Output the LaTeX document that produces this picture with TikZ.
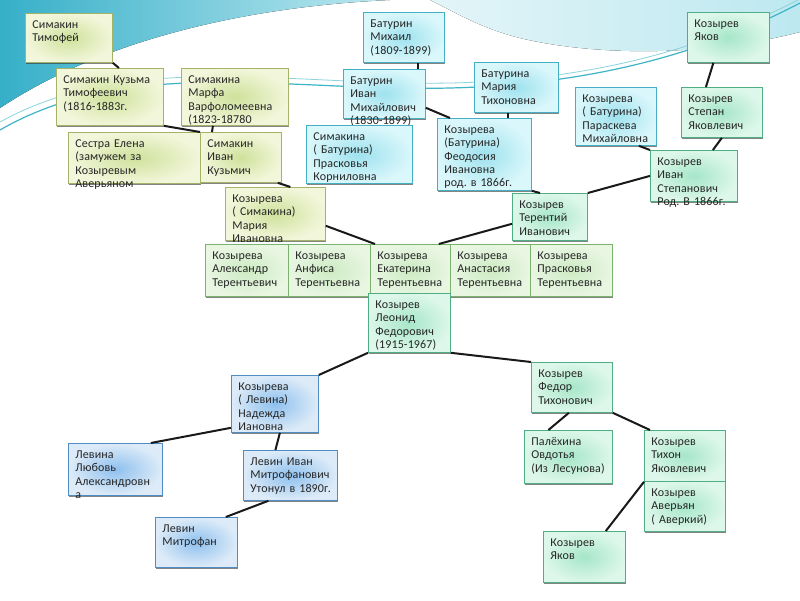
\documentclass[tikz,border=0pt]{standalone}
\usepackage{fontspec}
\newfontfamily\treefont{Carlito}[LetterSpace=1]
\usetikzlibrary{shadows}
\hyphenpenalty=10000
\frenchspacing

\definecolor{simline}{HTML}{A3B36A}
\definecolor{simin}{HTML}{CFE19B}
\definecolor{simout}{HTML}{F2F6DA}
\definecolor{batline}{HTML}{45AFC3}
\definecolor{batin}{HTML}{9EE2EE}
\definecolor{batout}{HTML}{DAF7FB}
\definecolor{kozline}{HTML}{4FAE83}
\definecolor{kozin}{HTML}{A6E6C8}
\definecolor{kozout}{HTML}{DDF7EA}
\definecolor{kidline}{HTML}{79B36E}
\definecolor{kidin}{HTML}{CDEBC3}
\definecolor{kidout}{HTML}{E8F6E2}
\definecolor{levline}{HTML}{4F8DC4}
\definecolor{levin}{HTML}{8EC0EE}
\definecolor{levout}{HTML}{DDEBF8}
\definecolor{swooshdark}{HTML}{36AFC8}
\definecolor{swooshlight}{HTML}{BDE8F0}
\definecolor{swooshpale}{HTML}{E3F5F8}
\definecolor{swooshline}{HTML}{3DB5C6}

\begin{document}
\begin{tikzpicture}[
    x=1pt, y=-1pt,
    person/.style={
        rectangle,
        draw,
        line width=0.8pt,
        anchor=north west,
        align=left,
        inner xsep=7pt,
        inner ysep=4pt,
        text height=11pt,
        font=\treefont\fontsize{12}{13.3}\selectfont,
        text=black!85,
        drop shadow={shadow xshift=1pt, shadow yshift=-2pt, opacity=0.6, fill=black!80}
    },
    simbox/.style={person, draw=simline, inner color=simin, outer color=simout},
    batbox/.style={person, draw=batline, inner color=batin, outer color=batout},
    kozbox/.style={person, draw=kozline, inner color=kozin, outer color=kozout},
    kidbox/.style={person, draw=kidline, inner color=kidin, outer color=kidout},
    levbox/.style={person, draw=levline, inner color=levin, outer color=levout},
    link/.style={line width=2pt, black!90}
]

\useasboundingbox[fill=white] (0,0) rectangle (800,600);
\fill[left color=swooshdark, right color=swooshlight]
    (0,0) -- (390,0) .. controls (260,6) and (110,35) .. (0,108) -- cycle;
\fill[left color=swooshpale, right color=swooshlight]
    (430,0) -- (800,0) -- (800,32) .. controls (700,58) and (590,55) .. (520,38)
    .. controls (480,28) and (455,12) .. (430,0) -- cycle;
\draw[swooshline, line width=1.2pt]
    (0,130) .. controls (130,55) and (290,92) .. (450,88) .. controls (610,84) and (720,45) .. (800,3);
\draw[swooshline!60, line width=0.8pt]
    (0,122) .. controls (130,50) and (290,86) .. (450,83) .. controls (610,80) and (720,40) .. (800,-1);

\node[simbox, text width=73pt, text depth=30pt] (tim) at (25,13) {Симакин\\Тимофей};
\node[simbox, text width=93pt, text depth=38pt] (kuzma) at (56,68) {\mbox{Симакин Кузьма}\\Тимофеевич\\(1816-1883г.};
\node[simbox, text width=93pt, text depth=38pt] (marfa) at (181,68) {Симакина\\Марфа\\Варфоломеевна\\(1823-18780};
\node[simbox, text width=118pt, text depth=32pt] (elena) at (68,132) {Сестра Елена\\(замужем за\\Козыревым\\Аверьяном};
\node[simbox, text width=67pt, text depth=31pt] (ivank) at (200,132) {Симакин\\Иван\\Кузьмич};
\node[simbox, text width=86pt, text depth=34pt] (mariya) at (225,187) {Козырева\\( Симакина)\\Мария\\Ивановна};

\node[batbox, text width=67pt, text depth=31pt] (bmih) at (363,12) {Батурин\\Михаил\\(1809-1899)};
\node[batbox, text width=68pt, text depth=30pt] (bivan) at (343,69) {Батурин\\Иван\\Михайлович\\(1830-1899)};
\node[batbox, text width=70pt, text depth=31pt] (bmariya) at (474,62) {Батурина\\Мария\\Тихоновна};
\node[batbox, text width=92pt, text depth=39pt] (praskovya) at (306,125) {Симакина\\( Батурина)\\Прасковья\\Корниловна};
\node[batbox, text width=80pt, text depth=53pt] (feodosiya) at (437,118) {Козырева\\(Батурина)\\Феодосия\\Ивановна\\\mbox{род. в 1866г.}};
\node[batbox, text width=67pt, text depth=39pt] (paraskeva) at (575,87) {Козырева\\( Батурина)\\Параскева\\Михайловна};

\node[kozbox, text width=68pt, text depth=31pt] (kyakov) at (687,12) {Козырев\\Яков};
\node[kozbox, text width=67pt, text depth=31pt] (stepan) at (681,87) {Козырев\\Степан\\Яковлевич};
\node[kozbox, text width=73pt, text depth=32pt] (ivans) at (650,150) {Козырев\\Иван\\Степанович\\\mbox{Род. В 1866г.}};
\node[kozbox, text width=61pt, text depth=28pt] (terentiy) at (512,193) {Козырев\\Терентий\\Иванович};

\node[kidbox, text width=69pt, text depth=33pt] (aleksandr) at (205,244) {Козырева\\Александр\\Терентьевич};
\node[kidbox, text width=68pt, text depth=33pt] (anfisa) at (288,244) {Козырева\\Анфиса\\Терентьевна};
\node[kidbox, text width=66pt, text depth=33pt] (ekaterina) at (370,244) {Козырева\\Екатерина\\Терентьевна};
\node[kidbox, text width=66pt, text depth=33pt] (anastasiya) at (450,244) {Козырева\\Анастасия\\Терентьевна};
\node[kidbox, text width=68pt, text depth=33pt] (praskovyat) at (530,244) {Козырева\\Прасковья\\Терентьевна};

\node[kozbox, text width=68pt, text depth=40pt] (leonid) at (368,293) {Козырев\\Леонид\\Федорович\\(1915-1967)};
\node[kozbox, text width=67pt, text depth=31pt] (fedor) at (531,362) {Козырев\\Федор\\Тихонович};
\node[kozbox, text width=74pt, text depth=34pt] (palekhina) at (524,430) {Палёхина\\Овдотья\\\mbox{(Из Лесунова)}};
\node[kozbox, text width=67pt, text depth=32pt] (tikhon) at (644,430) {Козырев\\Тихон\\Яковлевич};
\node[kozbox, text width=67pt, text depth=31pt] (averyan) at (644,481) {Козырев\\Аверьян\\( Аверкий)};
\node[kozbox, text width=68pt, text depth=32pt] (yakov) at (543,531) {Козырев\\Яков};

\node[levbox, text width=73pt, text depth=38pt] (nadezhda) at (231,375) {Козырева\\( Левина)\\Надежда\\Иановна};
\node[levbox, text width=80pt, text depth=33pt] (lyubov) at (68,443) {Левина\\Любовь\\Александровн\\а};
\node[levbox, text width=80pt, text depth=31pt] (levinivan) at (243,450) {Левин Иван\\Митрофанович\\\mbox{Утонул в 1890г.}};
\node[levbox, text width=68pt, text depth=31pt] (mitrofan) at (155,517) {Левин\\Митрофан};

\draw[link] (tim.south east) -- ([xshift=9pt]kuzma.north);
\draw[link] (kuzma.south east) -- (ivank.north west);
\draw[link] ([xshift=-22pt]marfa.south) -- ([xshift=12pt]ivank.north west);
\draw[link] ([xshift=-4pt]ivank.south east) -- ([xshift=15pt]mariya.north);
\draw[link] ([xshift=14pt]bmih.south) -- ([xshift=14pt]bmih.south |- bivan.north);
\draw[link] ([yshift=11pt]bivan.south east) -- ([xshift=13pt]feodosiya.north west);
\draw[link] ([xshift=-8pt]bmariya.south) -- ([xshift=-8pt]bmariya.south |- feodosiya.north);
\draw[link] (feodosiya.south east) -- ([xshift=28pt]terentiy.north west);
\draw[link] ([xshift=-15pt]kyakov.south) -- ([xshift=-16pt]stepan.north);
\draw[link] (stepan.south) -- ([xshift=19pt]ivans.north);
\draw[link] ([xshift=-18pt]paraskeva.south east) -- (ivans.north west);
\draw[link] (ivans.west) -- (terentiy.north east);
\draw[link] ([yshift=15pt]mariya.south east) -- ([xshift=5pt]ekaterina.north west);
\draw[link] ([yshift=17pt]terentiy.south west) -- ([xshift=-12pt]ekaterina.north east);
\draw[link] (leonid.south west) -- (nadezhda.north east);
\draw[link] (leonid.south east) -- (fedor.north west);
\draw[link] ([yshift=5pt]nadezhda.south west) -- ([xshift=-12pt]lyubov.north east);
\draw[link] ([xshift=5pt]nadezhda.south) -- ([xshift=-15pt]levinivan.north);
\draw[link] ([xshift=-22pt]levinivan.south) -- ([xshift=-12pt]mitrofan.north east);
\draw[link] ([xshift=-3pt]fedor.south) -- ([xshift=-20pt]palekhina.north);
\draw[link] (fedor.south east) -- ([xshift=6pt]tikhon.north west);
\draw[link] (tikhon.south west) -- ([xshift=-20pt]yakov.north east);

\end{tikzpicture}
\end{document}
